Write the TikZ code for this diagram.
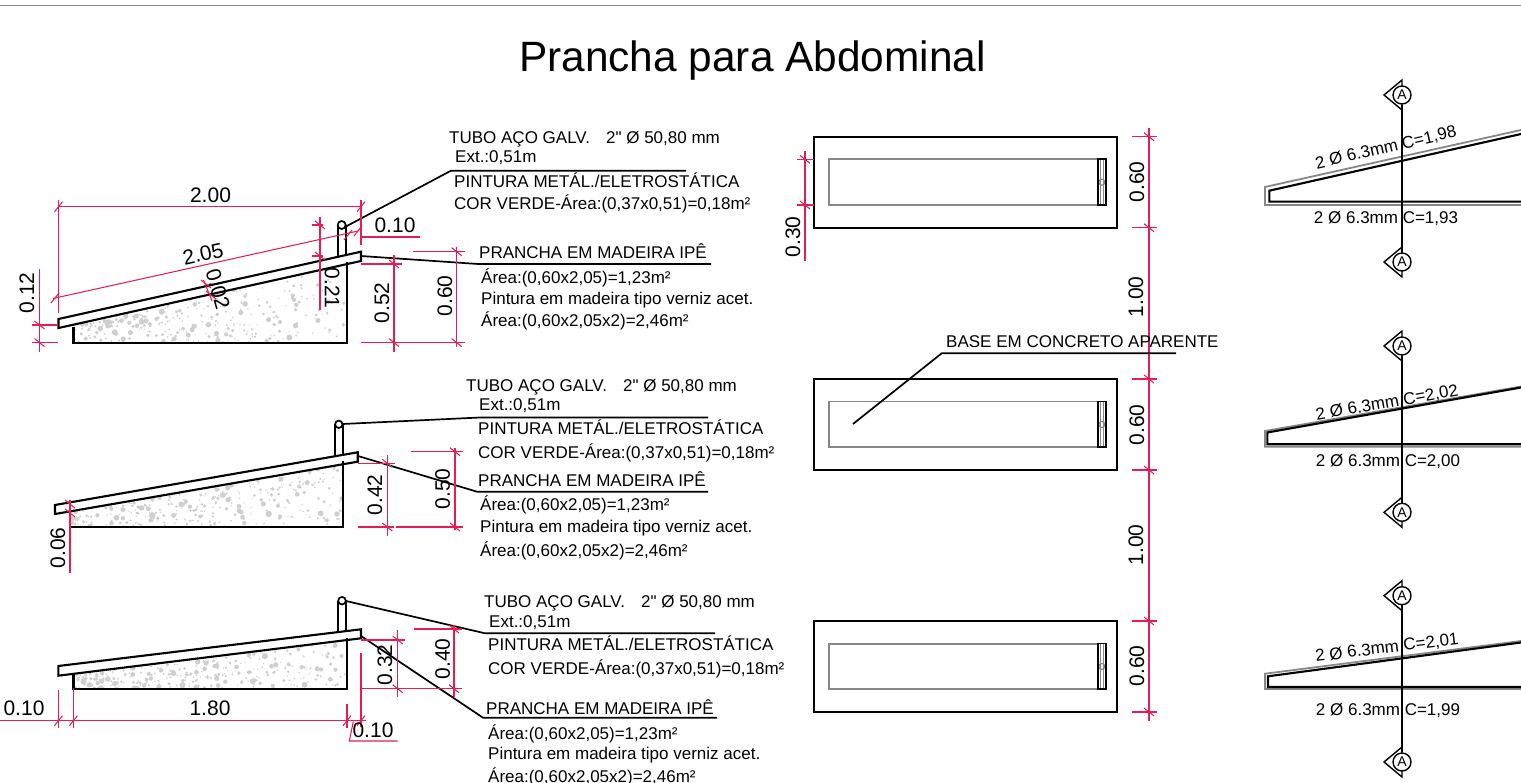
\documentclass[tikz,border=0pt]{standalone}
\usepackage{fontspec}
\setmainfont{Liberation Sans}[Ligatures=TeXOff]
\definecolor{dimred}{RGB}{228,30,84}
\definecolor{linegray}{RGB}{135,135,135}
\tikzset{
    part/.style={black, line width=2.1pt, line join=miter},
    leader/.style={black, line width=1.7pt},
    dimline/.style={dimred, line width=1.05pt},
    grayline/.style={linegray, line width=1.8pt},
    speck/.style={gray!38},
    title/.style={inner sep=0pt, font=\fontsize{42.4}{44}\selectfont},
    dimtext/.style={inner sep=0pt, font=\fontsize{21}{23}\selectfont},
    note/.style={inner sep=0pt, anchor=west, text height=14pt, text depth=1pt, font=\fontsize{17}{19}\selectfont},
    bartext/.style={inner sep=0pt, font=\fontsize{17}{19}\selectfont},
    cutmark/.style={circle, draw=black, line width=1.4pt, fill=white, minimum size=18pt, inner sep=0pt, font=\fontsize{14}{14}\selectfont}
}
\newcommand{\tickh}[2]{\draw[dimline] (#1-4,#2+5) -- (#1+4,#2-5);}
\newcommand{\tickv}[2]{\draw[dimline] (#1-5,#2-4) -- (#1+5,#2+4);}
\newcommand{\concrete}[5]{
    \begin{scope}
        \clip (#1,#3) -- (#2,#4) -- (#2,#5) -- (#1,#5) -- cycle;
        \foreach \i in {1,...,300}{
            \pgfmathsetmacro{\spx}{#1+rnd*(#2-#1)}
            \pgfmathsetmacro{\spt}{(\spx-#1)/(#2-#1)}
            \pgfmathsetmacro{\spy}{#5-rnd*(#5-(#3+\spt*(#4-#3)))}
            \pgfmathsetmacro{\spr}{0.7+2.6*rnd*rnd}
            \fill[speck] (\spx,\spy) circle (\spr);
        }
    \end{scope}
}
\begin{document}
\begin{tikzpicture}[x=1pt,y=-1pt]
    \useasboundingbox (0,0) rectangle (1521,783);
    \pgfmathsetseed{7}
    \draw[linegray, line width=1.2pt] (0,5.5) -- (1521,5.5);
    \node[title] (titulo) at (752.5,61) {Prancha para Abdominal};

    % first ramp
    \concrete{73.5}{347}{325}{264}{342.6}
    \draw[part] (73.5,327) -- (73.5,342.6) -- (347,342.6) -- (347,262);
    \draw[part] (58.5,319) -- (361,251.7) -- (361,261) -- (58.5,328) -- cycle;
    \draw[leader] (337.7,256) -- (337.7,225) (345.7,225) -- (345.7,254);
    \draw[leader, fill=white] (341.7,225) circle (4);
    \draw[leader] (345,227) -- (451,170.7) -- (686,170.7);
    \draw[leader] (361,256) -- (478,264) -- (711,264);
    \draw[dimline] (58.5,200) -- (58.5,313) (361,200) -- (361,245) (58.5,206.7) -- (361,206.7);
    \tickh{58.5}{206.7} \tickh{361}{206.7}
    \draw[dimline] (53,298.5) -- (358,231);
    \tickh{55}{298} \tickh{348}{235}
    \tickh{358}{231}
    \draw[dimline] (361,237) -- (420,237);
    \node[dimtext] (largA) at (210.5,195) {2.00};
    \node[dimtext, rotate=12.5] (rampaA) at (203,254) {2.05};
    \node[dimtext] (tuboA) at (395,225) {0.10};
    \draw[dimline] (203.5,280) -- (212,301);
    \tickv{206}{284} \tickv{211}{295}
    \node[dimtext, rotate=-74] (espA) at (218,289) {0.02};
    \draw[dimline] (320,217) -- (320,310) (312,225) -- (323,225) (312,256) -- (323,256);
    \tickv{320}{225} \tickv{320}{256}
    \node[dimtext, rotate=-90] (altA) at (332,288) {0.21};
    \draw[dimline] (39.5,269) -- (39.5,352) (32,325) -- (58,325) (32,342.6) -- (58,342.6);
    \tickv{39.5}{325} \tickv{39.5}{342.6}
    \node[dimtext, rotate=90] (baseA) at (27,293) {0.12};
    \draw[dimline] (394,255) -- (394,352) (361,264) -- (402,264) (361,342.6) -- (465,342.6);
    \tickv{394}{264} \tickv{394}{342.6}
    \node[dimtext, rotate=90] (cotaA) at (382,303) {0.52};
    \draw[dimline] (456.7,247) -- (456.7,347) (413,251.7) -- (465,251.7);
    \tickv{456.7}{251.7} \tickv{456.7}{342.6}
    \node[dimtext, rotate=90] (totalA) at (445,296) {0.60};
    \node[note] (tuboa) at (449,137) {TUBO AÇO GALV.\ \ \ \kern2pt 2" Ø 50,80 mm};
    \node[note] (exta) at (455,156) {Ext.:0,51m};
    \node[note] (pinta) at (454,181) {PINTURA METÁL./ELETROSTÁTICA};
    \node[note] (cora) at (454,203) {COR VERDE-Área:(0,37x0,51)=0,18m²};
    \node[note] (pranchaa) at (479,252) {PRANCHA EM MADEIRA IPÊ};
    \node[note] (areaa) at (481,277) {Área:(0,60x2,05)=1,23m²};
    \node[note] (verniza) at (481,298) {Pintura em madeira tipo verniz acet.};
    \node[note] (duasa) at (481,320) {Área:(0,60x2,05x2)=2,46m²};

    % second ramp
    \concrete{70}{343.3}{511.7}{463.3}{527}
    \draw[part] (70,512) -- (70,527) -- (343.3,527) -- (343.3,461);
    \draw[part] (55,505) -- (357.7,452.3) -- (357.7,461.7) -- (55,514) -- cycle;
    \draw[leader] (335,456) -- (335,424.3) (342.7,424.3) -- (342.7,455);
    \draw[leader, fill=white] (338.8,424.3) circle (3.7);
    \draw[leader] (342.5,424) -- (480,417.5) -- (708,417.5);
    \draw[leader] (358,456) -- (477,491.7) -- (708,491.7);
    \draw[dimline] (70,500) -- (70,572.7);
    \tickv{70}{504} \tickv{70}{513}
    \node[dimtext, rotate=90] (baseB) at (58,548) {0.06};
    \draw[dimline] (387.3,455) -- (387.3,536) (358,463.3) -- (395,463.3) (358,527) -- (394,527);
    \tickv{387.3}{463.3} \tickv{387.3}{527}
    \node[dimtext, rotate=90] (cotaB) at (375,495) {0.42};
    \draw[dimline] (455,448) -- (455,530) (411,451.7) -- (463,451.7) (396,527) -- (463,527);
    \tickv{455}{451.7} \tickv{455}{527}
    \node[dimtext, rotate=90] (totalB) at (442.7,489) {0.50};
    \node[note] (tubob) at (466,385) {TUBO AÇO GALV.\ \ \ \kern2pt 2" Ø 50,80 mm};
    \node[note] (extb) at (479,404) {Ext.:0,51m};
    \node[note] (pintb) at (478,428) {PINTURA METÁL./ELETROSTÁTICA};
    \node[note] (corb) at (478,452) {COR VERDE-Área:(0,37x0,51)=0,18m²};
    \node[note] (pranchab) at (478,480) {PRANCHA EM MADEIRA IPÊ};
    \node[note] (areab) at (480,504) {Área:(0,60x2,05)=1,23m²};
    \node[note] (vernizb) at (480,526) {Pintura em madeira tipo verniz acet.};
    \node[note] (duasb) at (480,550) {Área:(0,60x2,05x2)=2,46m²};

    % third ramp
    \concrete{73.5}{347}{675}{640}{688.7}
    \draw[part] (73.5,675) -- (73.5,688.7) -- (347,688.7) -- (347,638);
    \draw[part] (58.3,666) -- (361,629.3) -- (361,638.3) -- (58.3,675.7) -- cycle;
    \draw[leader] (338,631.7) -- (338,600.7) (346,600.7) -- (346,631);
    \draw[leader, fill=white] (342,600.7) circle (3.8);
    \draw[leader] (346,601) -- (485,633.3) -- (715,633.3);
    \draw[leader] (361,636) -- (483,717.7) -- (717,717.7);
    \draw[dimline] (397.7,630) -- (397.7,697) (361,640) -- (405,640) (361,653) -- (361,727) (361,688.7) -- (462,688.7);
    \tickv{397.7}{640} \tickv{397.7}{688.7}
    \node[dimtext, rotate=90] (cotaC) at (385,665) {0.32};
    \draw[dimline] (454,625) -- (454,697) (414,629) -- (462,629);
    \tickv{454}{629} \tickv{454}{688.7}
    \node[dimtext, rotate=90] (totalC) at (442.7,659) {0.40};
    \draw[dimline] (0,720.7) -- (366,720.7);
    \draw[dimline] (58.5,690) -- (58.5,728) (73.5,688) -- (73.5,728) (347,704) -- (347,728);
    \tickh{58.5}{720.7} \tickh{73.5}{720.7} \tickh{347}{720.7} \tickh{361}{720.7}
    \draw[dimline] (353.3,721.7) -- (349.3,741) -- (397.7,741);
    \node[dimtext] (vaoC) at (24,708) {0.10};
    \node[dimtext] (compC) at (210,708) {1.80};
    \node[dimtext] (abaC) at (373,730) {0.10};
    \node[note] (tuboc) at (484,601) {TUBO AÇO GALV.\ \ \ \kern2pt 2" Ø 50,80 mm};
    \node[note] (extc) at (489,621) {Ext.:0,51m};
    \node[note] (pintc) at (488,644) {PINTURA METÁL./ELETROSTÁTICA};
    \node[note] (corc) at (488,668) {COR VERDE-Área:(0,37x0,51)=0,18m²};
    \node[note] (pranchac) at (486,708) {PRANCHA EM MADEIRA IPÊ};
    \node[note] (areac) at (488,733) {Área:(0,60x2,05)=1,23m²};
    \node[note] (vernizc) at (488,753) {Pintura em madeira tipo verniz acet.};
    \node[note] (duasc) at (488,776) {Área:(0,60x2,05x2)=2,46m²};

    % plan views
    \foreach \py in {136.7,379,621}{
        \draw[part] (814,\py) rectangle (1116.7,\py+91);
        \draw[grayline] (829.3,\py+22.6) rectangle (1098,\py+68.3);
        \draw[linegray, line width=1pt] (1100.3,\py+22.6) -- (1100.3,\py+68.3) (1103.2,\py+22.6) -- (1103.2,\py+68.3);
        \draw[linegray, line width=1.1pt] (1101.8,\py+45.5) circle (3);
        \draw[black, line width=1.7pt] (1097.7,\py+22.6) rectangle (1105.7,\py+68.3);
        \draw[dimline] (1131.7,\py) -- (1157,\py) (1131.7,\py+91) -- (1157,\py+91);
        \tickv{1149}{\py} \tickv{1149}{\py+91}
    }
    \draw[dimline] (1149,128) -- (1149,721);
    \draw[dimline] (805,150.7) -- (805,260.7) (797,159.3) -- (814,159.3) (797,205) -- (814,205);
    \tickv{805}{159.3} \tickv{805}{205}
    \node[dimtext, rotate=90] (fundo) at (793,237) {0.30};
    \node[dimtext, rotate=90] (largP) at (1137,182) {0.60};
    \node[dimtext, rotate=90] (distP) at (1136,297) {1.00};
    \node[dimtext, rotate=90] (largQ) at (1137,425) {0.60};
    \node[dimtext, rotate=90] (distQ) at (1136,545) {1.00};
    \node[dimtext, rotate=90] (largR) at (1137,666) {0.60};
    \node[note] (basetxt) at (946,341) {BASE EM CONCRETO APARENTE};
    \draw[leader] (853,424) -- (941.7,353.3) -- (1176,353.3);

    % bar sections
    \draw[grayline] (1521,130) -- (1265,187) -- (1265,205) -- (1521,205);
    \draw[part] (1521,134) -- (1269.3,190.7) -- (1269.3,201.7) -- (1521,201.7);
    \draw[grayline] (1521,386.5) -- (1265,431) -- (1265,446.7) -- (1521,446.7);
    \draw[part] (1521,387.5) -- (1267.3,432.5) -- (1267.3,444.3) -- (1521,444.3);
    \draw[grayline] (1521,641) -- (1265,673.7) -- (1265,689) -- (1521,689);
    \draw[part] (1521,642.5) -- (1268,676.3) -- (1268,687) -- (1521,687);
    \foreach \cy/\cname in {95/cutAtop,262/cutAbot,346/cutBtop,512.3/cutBbot,595.7/cutCtop,762/cutCbot}{
        \draw[black, line width=1.4pt] (1402,\cy-15) -- (1384,\cy) -- (1402,\cy+15) -- cycle;
        \node[cutmark] (\cname) at (1402,\cy) {A};
    }
    \draw[leader] (cutAtop) -- (cutAbot);
    \draw[leader] (cutBtop) -- (cutBbot);
    \draw[leader] (cutCtop) -- (cutCbot);
    \node[bartext, rotate=13] (barA) at (1386,148) {2 Ø 6.3mm C=1,98};
    \node[bartext] (barB) at (1386,218.5) {2 Ø 6.3mm C=1,93};
    \node[bartext, rotate=10] (barC) at (1387,403) {2 Ø 6.3mm C=2,02};
    \node[bartext] (barD) at (1388,462) {2 Ø 6.3mm C=2,00};
    \node[bartext, rotate=7] (barE) at (1387,648) {2 Ø 6.3mm C=2,01};
    \node[bartext] (barF) at (1388,711) {2 Ø 6.3mm C=1,99};
\end{tikzpicture}
\end{document}
